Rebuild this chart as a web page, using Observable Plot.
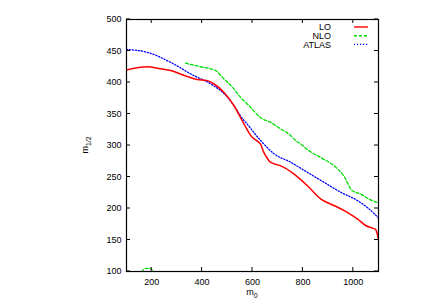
<!DOCTYPE html>
<html><head><meta charset="utf-8">
<script src="https://cdn.jsdelivr.net/npm/d3@7"></script>
<script src="https://cdn.jsdelivr.net/npm/@observablehq/plot@0.6"></script>
<style>body{margin:0;background:#fff;} #chart{width:436px;height:306px;}</style>
</head><body><div id="chart"></div>
<script>
// LO (red, solid)
const loX = [100,182,235,275,341,380,420,446,486,526,566,599,619,632,645,660,671,711,764,817,870,923,976,1016,1049,1075,1088,1095,1100];
const loY = [420,425,421.7,419,409.5,404.8,403,398,384.6,363.5,334.4,313,307,302,289,279,273.5,268,255,236.5,215.4,204.8,194,183.6,173,169,167,160,150];
// NLO (green, dashed) main contour
const nloX = [334,394,453,486,526,552,579,592,632,671,711,751,771,790,823,870,923,962,995,1029,1062,1100];
const nloY = [430.7,425,419,406,390,376.7,366,360.8,344,337,326.5,316,308,302.7,292,281,268,252,228.6,223,215,209];
// NLO small island near the bottom axis
const nlo2X = [160,168,178,190,200,206];
const nlo2Y = [99,103,105,105,103,99];
// ATLAS (blue, dotted)
const atlasX = [100,182,275,367,433,500,539,552,579,632,685,751,817,883,949,1016,1062,1100];
const atlasY = [452.4,448,432,411,398,377,355.6,347,334,308,287,273.5,257.6,241.8,226,212.7,199.5,185];

const xTicks = [200,400,600,800,1000];
const yTicks = [100,150,200,250,300,350,400,450,500];
const legendNames = ["LO","NLO","ATLAS"];
const legendColors = ["#ff0000","#00dd00","#0000ff"];
const legendDash = [null,"3,2","1.2,1.8"];

const toPts = (xs, ys) => xs.map((x,i)=>({x, y: ys[i]}));
const lo = toPts(loX, loY), nlo = toPts(nloX, nloY), nlo2 = toPts(nlo2X, nlo2Y), atlas = toPts(atlasX, atlasY);

const font = "'Liberation Sans', Arial, sans-serif";
const chart = Plot.plot({
  width: 436, height: 306,
  marginLeft: 126, marginRight: 58, marginTop: 19, marginBottom: 35,
  style: {fontFamily: font, fontSize: "9px", background: "white", color: "black"},
  x: {domain: [100,1100]},
  y: {domain: [100,500]},
  marks: [
    Plot.line(atlas, {x:"x", y:"y", stroke: legendColors[2], strokeWidth: 1.3, strokeDasharray: legendDash[2], curve: "monotone-x", clip: true}),
    Plot.line(nlo, {x:"x", y:"y", stroke: legendColors[1], strokeWidth: 1.3, strokeDasharray: legendDash[1], curve: "monotone-x", clip: true}),
    Plot.line(nlo2, {x:"x", y:"y", stroke: legendColors[1], strokeWidth: 1.3, strokeDasharray: legendDash[1], curve: "monotone-x", clip: true}),
    Plot.line(lo, {x:"x", y:"y", stroke: legendColors[0], strokeWidth: 1.5, curve: "monotone-x", clip: true}),
    Plot.frame({stroke: "black", strokeWidth: 1.2}),
    Plot.axisX(xTicks, {anchor: "bottom", tickSize: 0, tickPadding: 7, label: null, fontSize: 9, tickFormat: d3.format("d")}),
    Plot.axisY(yTicks, {anchor: "left", tickSize: 0, tickPadding: 5, label: null, fontSize: 9, tickFormat: d3.format("d")})
  ]
});
document.getElementById("chart").appendChild(chart);

const svg = d3.select(chart);
const sx = chart.scale("x"), sy = chart.scale("y");
const x0 = sx.range[0], x1 = sx.range[1];
const y0 = sy.range[0], y1 = sy.range[1]; // bottom, top
const tl = 4;
const g = svg.append("g").attr("stroke","black").attr("stroke-width",1);
xTicks.forEach(t => {
  const px = sx.apply(t);
  g.append("line").attr("x1",px).attr("x2",px).attr("y1",y0).attr("y2",y0-tl);
  g.append("line").attr("x1",px).attr("x2",px).attr("y1",y1).attr("y2",y1+tl);
});
yTicks.forEach(t => {
  const py = sy.apply(t);
  g.append("line").attr("x1",x0).attr("x2",x0+tl).attr("y1",py).attr("y2",py);
  g.append("line").attr("x1",x1).attr("x2",x1-tl).attr("y1",py).attr("y2",py);
});

// axis labels with subscripts
const xl = svg.append("text").attr("x",(x0+x1)/2).attr("y",y0+24).attr("text-anchor","middle")
  .attr("font-family",font).attr("font-size",9).attr("fill","black");
xl.append("tspan").text("m");
xl.append("tspan").attr("dy",2.5).attr("font-size",7).text("0");
const yl = svg.append("text").attr("transform",`translate(${x0-38},${(y0+y1)/2}) rotate(-90)`)
  .attr("text-anchor","middle").attr("font-family",font).attr("font-size",9).attr("fill","black");
yl.append("tspan").text("m");
yl.append("tspan").attr("dy",2.5).attr("font-size",7).text("1/2");

// legend
legendNames.forEach((n,i) => {
  const ly = y1 + 8 + i*8.7;
  svg.append("text").attr("x",x1-47).attr("y",ly).attr("dy","0.35em").attr("text-anchor","end")
    .attr("font-family",font).attr("font-size",9).attr("fill","black").text(n);
  const ln = svg.append("line").attr("x1",x1-24).attr("x2",x1-10).attr("y1",ly).attr("y2",ly)
    .attr("stroke",legendColors[i]).attr("stroke-width",1.4);
  if (legendDash[i]) ln.attr("stroke-dasharray",legendDash[i]);
});
</script>
</body></html>
